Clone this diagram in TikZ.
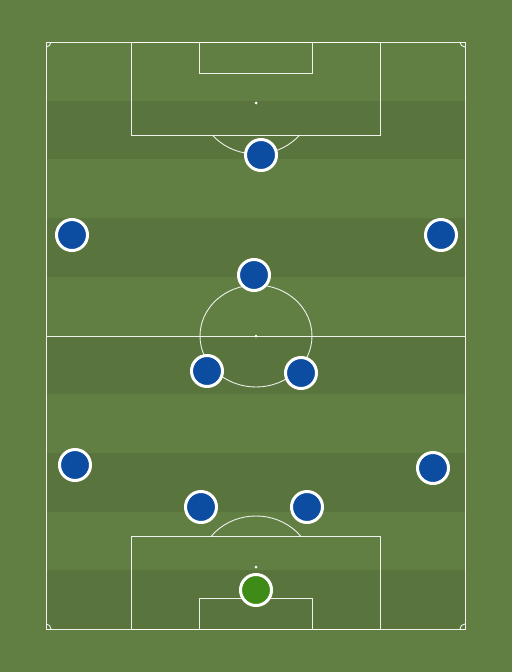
\documentclass[tikz,border=0pt]{standalone}
\usepackage{tikz}
\usetikzlibrary{shapes,positioning,shadows}
\definecolor{grass}{RGB}{98, 127, 67}
\definecolor{grassdark}{RGB}{90, 116, 61}
\definecolor{kitblue}{RGB}{12, 77, 162}
\definecolor{keeper}{RGB}{62, 140, 23}
\tikzstyle{pitchline} = [draw=white, draw opacity=0.9, line width=0.9pt]
\tikzstyle{spot} = [circle, fill=white, inner sep=0pt, minimum size=3pt]
\tikzstyle{player} = [circle, draw=white, line width=3pt, fill=kitblue, minimum size=31pt, inner sep=0pt, drop shadow={opacity=0.25, shadow xshift=0pt, shadow yshift=-1pt}]
\tikzstyle{goalie} = [player, fill=keeper]

\begin{document}
\begin{tikzpicture}[x=1pt, y=-1pt]

\useasboundingbox (0,0) rectangle (512,672);
\fill[grass] (0,0) rectangle (512,672);

% stripes =============================
\foreach \i in {1,3,5,7,9}
  \fill[grassdark] (46,{42+58.7*\i}) rectangle (465,{42+58.7*(\i+1)});

% markings
\path[pitchline] (46,42) rectangle (465,629);
\path[pitchline] (46,336) -- (465,336);
\path[pitchline] (256,336) ellipse[x radius=56pt, y radius=51pt];
\path[pitchline] (131,42) rectangle (380,135);
\path[pitchline] (199,42) rectangle (312,73);
\path[pitchline] (131,629) rectangle (380,536);
\path[pitchline] (199,629) rectangle (312,598);
\node[spot] (centre) at (256,336) {};
\node[spot] (pentop) at (256,103) {};
\node[spot] (penbot) at (256,567) {};
\begin{scope}
  \clip (46,135) rectangle (465,336);
  \path[pitchline] (pentop) ellipse[x radius=56pt, y radius=51pt];
\end{scope}
\begin{scope}
  \clip (46,336) rectangle (465,536);
  \path[pitchline] (penbot) ellipse[x radius=56pt, y radius=51pt];
\end{scope}
\begin{scope}
  \clip (46,42) rectangle (465,629);
  \foreach \cx/\cy in {46/42, 465/42, 46/629, 465/629}
    \path[pitchline] (\cx,\cy) circle[radius=5pt];
\end{scope}

% players =============================
\node[player] (st) at (261,155) {};
\node[player] (lw) at (72,235) {};
\node[player] (rw) at (441,235) {};
\node[player] (am) at (254,275) {};
\node[player] (lcm) at (207,371) {};
\node[player] (rcm) at (301,373) {};
\node[player] (lb) at (75,465) {};
\node[player] (rb) at (433,468) {};
\node[player] (lcb) at (201,507) {};
\node[player] (rcb) at (307,507) {};
\node[goalie] (gk) at (256,590) {};

\end{tikzpicture}
\end{document}
